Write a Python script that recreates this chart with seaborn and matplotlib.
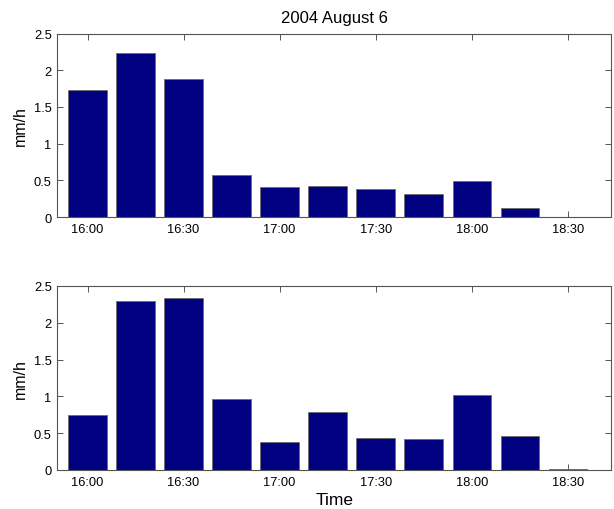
import matplotlib
matplotlib.use("Agg")
import matplotlib.pyplot as plt
import seaborn as sns
import pandas as pd

times = ["16:00", "16:15", "16:30", "16:45", "17:00", "17:15", "17:30",
         "17:45", "18:00", "18:15", "18:30"]
top_values = [1.73, 2.23, 1.88, 0.57, 0.41, 0.42, 0.38, 0.31, 0.49, 0.12, 0.0]
bottom_values = [0.75, 2.30, 2.33, 0.97, 0.38, 0.79, 0.44, 0.42, 1.02, 0.46, 0.02]
tick_labels = ["16:00", "16:30", "17:00", "17:30", "18:00", "18:30"]
yticks = [0, 0.5, 1, 1.5, 2, 2.5]
ytick_labels = ["0", "0.5", "1", "1.5", "2", "2.5"]

sns.set_style("white")
plt.rcParams['font.family'] = ['Liberation Sans', 'DejaVu Sans']
plt.rcParams['text.color'] = 'black'
plt.rcParams['axes.labelcolor'] = 'black'
plt.rcParams['xtick.labelcolor'] = 'black'
plt.rcParams['ytick.labelcolor'] = 'black'

fig = plt.figure(figsize=(6.14, 5.10), dpi=100)
ax1 = fig.add_axes([0.0933, 0.5725, 0.9018, 0.3598])
ax2 = fig.add_axes([0.0933, 0.0765, 0.9018, 0.361])

bar_color = "#000080"
for ax, vals in ((ax1, top_values), (ax2, bottom_values)):
    df = pd.DataFrame({"time": times, "rate": vals})
    sns.barplot(data=df, x="time", y="rate", ax=ax, color=bar_color,
                saturation=1, width=0.8, edgecolor="#6d6d6d", linewidth=0.6,
                order=times)
    ax.set_xlim(-0.63, 10.9)
    ax.set_ylim(0, 2.5)
    ax.set_yticks(yticks)
    ax.set_yticklabels(ytick_labels)
    idx = [times.index(t) for t in tick_labels]
    ax.set_xticks(idx)
    ax.set_xticklabels(tick_labels)
    ax.tick_params(direction="in", length=4, width=0.7, color="#555555",
                   labelsize=9.3, labelcolor="black", top=True, right=True,
                   bottom=True, left=True, pad=4)
    for s in ax.spines.values():
        s.set_visible(True)
        s.set_color("#555555")
        s.set_linewidth(0.8)
    ax.set_ylabel("mm/h", fontsize=11.5, labelpad=4, color="black")
    ax.set_xlabel("")

ax1.set_title("2004 August 6", fontsize=12, pad=8, color="black")
ax2.set_xlabel("Time", fontsize=12.5, labelpad=3, color="black")

fig.savefig("out.png", dpi=100, facecolor="white")
